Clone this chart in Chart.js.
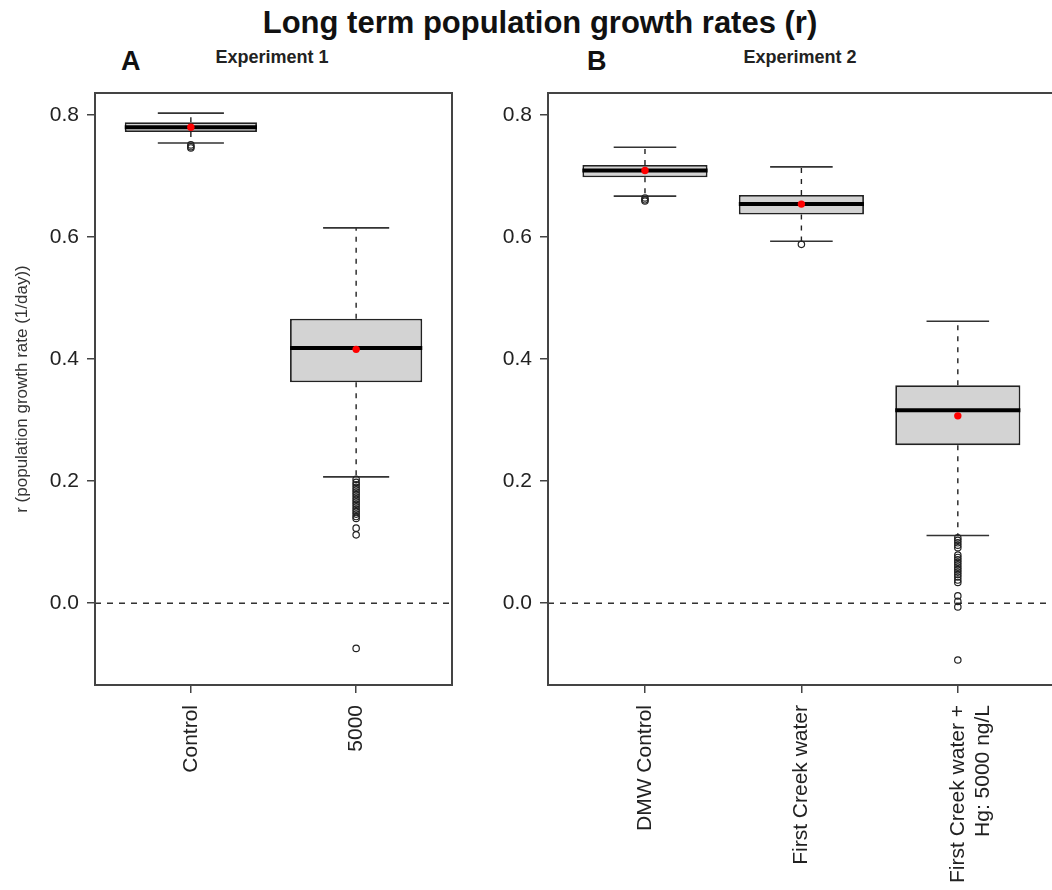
<!DOCTYPE html>
<html>
<head>
<meta charset="utf-8">
<script src="https://cdn.jsdelivr.net/npm/chart.js@4.4.1/dist/chart.umd.min.js"></script>
<style>
  html, body { margin: 0; padding: 0; background: #fff; overflow: hidden; }
  #wrap { position: relative; width: 1052px; height: 890px; overflow: hidden; font-family: 'Liberation Sans', Arial, sans-serif; color: #111; }
  .lbl { position: absolute; font-weight: bold; white-space: nowrap; }
  canvas { position: absolute; top: 0; }
</style>
</head>
<body>
<div id="wrap">
  <div class="lbl" style="left:0;width:1080px;text-align:center;top:7px;font-size:31px;line-height:31px;">Long term population growth rates (r)</div>
  <div class="lbl" style="left:121px;top:48px;font-size:27px;line-height:27px;">A</div>
  <div class="lbl" style="left:172px;width:200px;text-align:center;top:48px;font-size:18px;line-height:18px;color:#222;">Experiment 1</div>
  <div class="lbl" style="left:587px;top:48px;font-size:27px;line-height:27px;">B</div>
  <div class="lbl" style="left:700px;width:200px;text-align:center;top:48px;font-size:18px;line-height:18px;color:#222;">Experiment 2</div>
  <canvas id="chartA" width="470" height="890" style="left:0px"></canvas>
  <canvas id="chartB" width="607" height="890" style="left:453px"></canvas>
</div>
<script>
// y axis
const yTicks = [0.0, 0.2, 0.4, 0.6, 0.8];
const yMin = -0.134;
const yMax = 0.836;

// Experiment 1
const catA = ['Control', '5000'];
const lowA = [0.754, 0.207];
const q1A = [0.772, 0.362];
const medA = [0.780, 0.418];
const q3A = [0.788, 0.466];
const highA = [0.803, 0.615];
const meanA = [0.780, 0.416];
const outA = [
  [0.751, 0.748, 0.746],
  [0.203, 0.198, 0.194, 0.190, 0.186, 0.182, 0.178, 0.174, 0.170, 0.166, 0.162, 0.158,
   0.154, 0.150, 0.146, 0.142, 0.139, 0.123, 0.112, -0.074]
];

// Experiment 2
const catB = ['DMW Control', 'First Creek water', ['First Creek water +', 'Hg: 5000 ng/L']];
const lowB = [0.667, 0.593, 0.111];
const q1B = [0.698, 0.637, 0.259];
const medB = [0.709, 0.654, 0.316];
const q3B = [0.718, 0.669, 0.357];
const highB = [0.747, 0.715, 0.462];
const meanB = [0.709, 0.654, 0.307];
const outB = [
  [0.664, 0.661, 0.659],
  [0.588],
  [0.107, 0.103, 0.099, 0.095, 0.091, 0.079, 0.075, 0.071, 0.067, 0.063, 0.059, 0.055,
   0.051, 0.047, 0.043, 0.038, 0.034, 0.012, 0.003, -0.006, -0.093]
];

Chart.defaults.font.family = "'Liberation Sans', Arial, sans-serif";

function boxParts(s) {
  return {
    id: 'boxParts',
    beforeDatasetsDraw(chart) {
      const { ctx, chartArea: a, scales: { y } } = chart;
      const y0 = y.getPixelForValue(0);
      ctx.save();
      ctx.setLineDash([6, 6]);
      ctx.strokeStyle = '#222';
      ctx.lineWidth = 1.4;
      ctx.beginPath();
      ctx.moveTo(a.left, y0);
      ctx.lineTo(a.right, y0);
      ctx.stroke();
      ctx.restore();
    },
    afterDatasetDraw(chart, args) {
      if (args.index !== 0) return;
      const { ctx, scales: { x, y } } = chart;
      ctx.save();
      s.low.forEach((lo, i) => {
        const pos = i + 1;
        const cx = x.getPixelForValue(pos);
        // dashed whiskers
        ctx.setLineDash([5, 6]);
        ctx.strokeStyle = '#222';
        ctx.lineWidth = 1.4;
        ctx.beginPath();
        ctx.moveTo(cx, y.getPixelForValue(s.q3[i]));
        ctx.lineTo(cx, y.getPixelForValue(s.high[i]));
        ctx.moveTo(cx, y.getPixelForValue(s.q1[i]));
        ctx.lineTo(cx, y.getPixelForValue(lo));
        ctx.stroke();
        // staples
        ctx.setLineDash([]);
        ctx.strokeStyle = '#333';
        ctx.lineWidth = 1.6;
        ctx.beginPath();
        [lo, s.high[i]].forEach(v => {
          const py = y.getPixelForValue(v);
          ctx.moveTo(x.getPixelForValue(pos - 0.2), py);
          ctx.lineTo(x.getPixelForValue(pos + 0.2), py);
        });
        ctx.stroke();
        // median
        ctx.strokeStyle = '#000';
        ctx.lineWidth = 4;
        ctx.beginPath();
        const pm = y.getPixelForValue(s.med[i]);
        ctx.moveTo(x.getPixelForValue(pos - 0.4), pm);
        ctx.lineTo(x.getPixelForValue(pos + 0.4), pm);
        ctx.stroke();
      });
      ctx.restore();
    },
    afterDraw(chart) {
      const { ctx, chartArea: a } = chart;
      ctx.save();
      ctx.strokeStyle = '#444';
      ctx.lineWidth = 2;
      ctx.strokeRect(a.left, a.top, a.right - a.left, a.bottom - a.top);
      ctx.restore();
    }
  };
}

function makeChart(id, cats, s, xMin, xMax, padRight, showTitle) {
  const boxes = cats.map((c, i) => ({ x: i + 1, y: [s.q1[i], s.q3[i]] }));
  const outliers = [];
  s.out.forEach((list, i) => list.forEach(v => outliers.push({ x: i + 1, y: v })));
  const means = s.mean.map((v, i) => ({ x: i + 1, y: v }));

  return new Chart(document.getElementById(id), {
    type: 'bar',
    data: {
      datasets: [
        {
          type: 'bar',
          data: boxes,
          backgroundColor: '#d3d3d3',
          borderColor: '#222',
          borderWidth: 1.8,
          borderSkipped: false,
          categoryPercentage: 0.8,
          barPercentage: 1,
          order: 3
        },
        {
          type: 'scatter',
          data: outliers,
          pointRadius: 3.2,
          pointBackgroundColor: 'rgba(0,0,0,0)',
          pointBorderColor: '#222',
          pointBorderWidth: 1.2,
          order: 2
        },
        {
          type: 'scatter',
          data: means,
          pointRadius: 3.7,
          pointBackgroundColor: '#ff0000',
          pointBorderColor: '#ff0000',
          pointBorderWidth: 0,
          order: 1
        }
      ]
    },
    options: {
      responsive: false,
      animation: false,
      events: [],
      layout: { padding: { left: 0, top: 93, right: padRight, bottom: 0 } },
      plugins: {
        legend: { display: false },
        tooltip: { enabled: false }
      },
      scales: {
        x: {
          type: 'linear',
          min: xMin,
          max: xMax,
          offset: false,
          afterBuildTicks: sc => { sc.ticks = cats.map((c, i) => ({ value: i + 1 })); },
          afterFit: sc => { sc.height = 205; },
          ticks: {
            autoSkip: false,
            minRotation: 90,
            maxRotation: 90,
            padding: 12,
            color: '#222',
            font: { size: 21 },
            callback: v => cats[v - 1]
          },
          grid: { display: true, offset: false, drawOnChartArea: false, drawTicks: true, tickLength: 8, color: '#444', lineWidth: 1.5 },
          border: { display: true, color: '#444', width: 2 }
        },
        y: {
          min: yMin,
          max: yMax,
          afterBuildTicks: sc => { sc.ticks = yTicks.map(v => ({ value: v })); },
          afterFit: sc => { sc.width = 95; },
          ticks: {
            padding: 8,
            color: '#222',
            font: { size: 21 },
            callback: v => v.toFixed(1)
          },
          grid: { display: true, offset: false, drawOnChartArea: false, drawTicks: true, tickLength: 8, color: '#444', lineWidth: 1.5 },
          border: { display: true, color: '#444', width: 2 },
          title: {
            display: showTitle,
            text: 'r (population growth rate (1/day))',
            color: '#333',
            font: { size: 17 },
            padding: { top: 12, bottom: 0 }
          }
        }
      }
    },
    plugins: [boxParts(s)]
  });
}

makeChart('chartA', catA,
  { low: lowA, q1: q1A, med: medA, q3: q3A, high: highA, mean: meanA, out: outA },
  0.42, 2.58, 18, true);

makeChart('chartB', catB,
  { low: lowB, q1: q1B, med: medB, q3: q3B, high: highB, mean: meanB, out: outB },
  0.38, 3.62, 3, false);
</script>
</body>
</html>
